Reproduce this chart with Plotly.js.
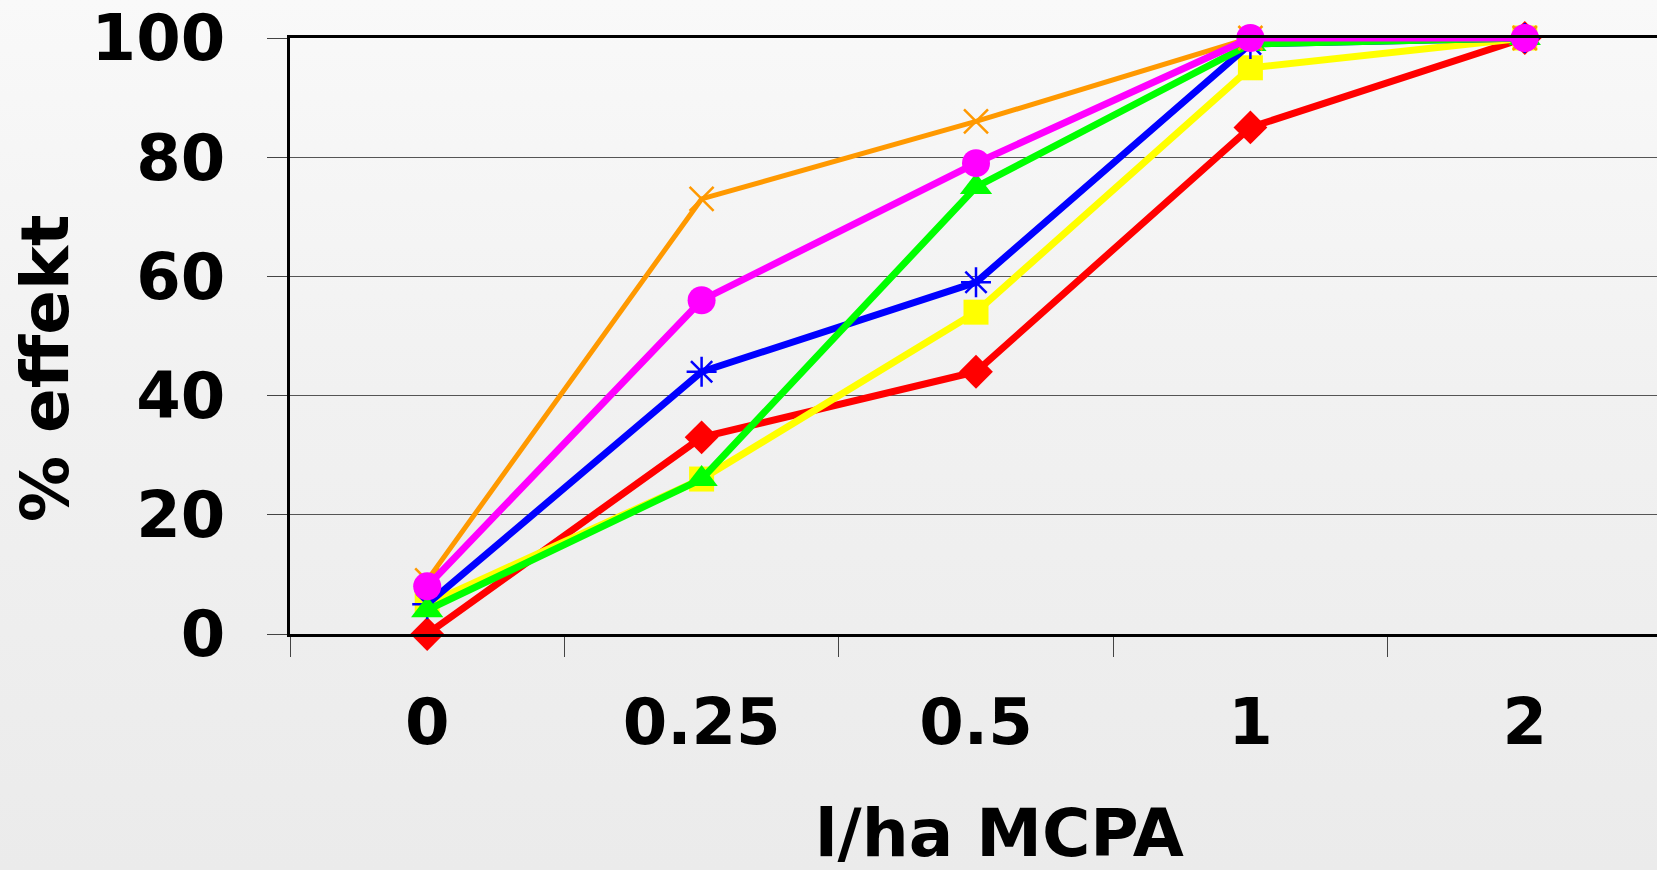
<!DOCTYPE html>
<html>
<head>
<meta charset="utf-8">
<script src="https://cdn.plot.ly/plotly-3.0.1.min.js"></script>
<style>
  html, body { margin: 0; padding: 0; width: 1657px; height: 870px; overflow: hidden; }
  body { background: linear-gradient(to bottom, #f9f9f9 0%, #f1f1f1 45%, #ebebeb 100%); }
  #chart { width: 1662px; height: 870px; }
</style>
</head>
<body>
<div id="chart"></div>
<script>
const categories = ["0", "0.25", "0.5", "1", "2"];
const redValues     = [0, 33, 44, 85, 100];
const yellowValues  = [5, 26, 54, 95, 100];
const blueValues    = [5, 44, 59, 99, 100];
const greenValues   = [4, 26, 75, 99, 100];
const orangeValues  = [9, 73, 86, 100, 100];
const magentaValues = [8, 56, 79, 100, 100];
const yTickValues = [0, 20, 40, 60, 80, 100];
const xTitle = "l/ha MCPA";
const yTitle = "% effekt";

const font = "DejaVu Sans, Verdana, sans-serif";

function series(y, color, symbol, size, lw, open) {
  const m = open
    ? { symbol: symbol, size: size, color: color, line: { color: color, width: 2.5 } }
    : { symbol: symbol, size: size, color: color, line: { width: 0 } };
  return {
    x: categories, y: y, type: "scatter", mode: "lines+markers",
    line: { color: color, width: lw }, marker: m, cliponaxis: false,
    hoverinfo: "skip", showlegend: false
  };
}

const data = [
  series(redValues, "#ff0000", "diamond", 26, 7, false),
  series(yellowValues, "#ffff00", "square", 25, 7, false),
  series(blueValues, "#0000ff", "asterisk-open", 25, 7, true),
  series(greenValues, "#00ff00", "triangle-up", 28, 7, false),
  series(orangeValues, "#ff9900", "x-thin-open", 24, 5, true),
  series(magentaValues, "#ff00ff", "circle", 28, 7, false)
];

const layout = {
  width: 1662, height: 870,
  margin: { l: 290, r: 0, t: 38, b: 236 },
  paper_bgcolor: "rgba(0,0,0,0)",
  plot_bgcolor: "rgba(0,0,0,0)",
  font: { family: font, color: "#000" },
  xaxis: {
    type: "category", range: [-0.5, 4.5],
    showline: true, linecolor: "#000", linewidth: 3, mirror: true,
    ticks: "outside", tickson: "boundaries", ticklen: 20, tickcolor: "#444", tickwidth: 1,
    showgrid: false, zeroline: false,
    tickfont: { family: font, size: 64, color: "#000", weight: "bold" },
    ticklabelstandoff: 30
  },
  yaxis: {
    range: [0, 100], tickvals: yTickValues,
    showline: true, linecolor: "#000", linewidth: 3, mirror: true,
    ticks: "outside", ticklen: 20, tickcolor: "#444", tickwidth: 1,
    showgrid: true, gridcolor: "#555", gridwidth: 1, zeroline: false,
    tickfont: { family: font, size: 64, color: "#000", weight: "bold" },
    ticklabelstandoff: 29
  },
  annotations: [
    { text: "<b>" + xTitle + "</b>", xref: "paper", yref: "paper", x: (999 - 290) / 1372, y: -(833 - 634) / 596,
      xanchor: "center", yanchor: "middle", showarrow: false,
      font: { family: font, size: 66, color: "#000" } },
    { text: "<b>" + yTitle + "</b>", xref: "paper", yref: "paper", x: -(290 - 46) / 1372, y: (634 - 368) / 596,
      xanchor: "center", yanchor: "middle", showarrow: false, textangle: -90,
      font: { family: font, size: 66, color: "#000" } }
  ]
};

Plotly.newPlot("chart", data, layout, { staticPlot: true, displayModeBar: false });
</script>
</body>
</html>
